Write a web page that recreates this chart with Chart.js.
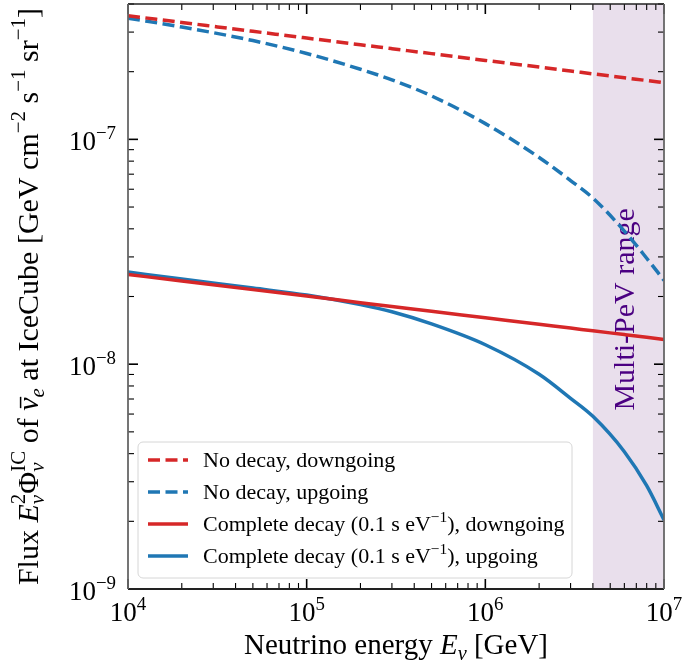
<!DOCTYPE html>
<html>
<head>
<meta charset="utf-8">
<script src="https://cdn.jsdelivr.net/npm/chart.js@4.4.0/dist/chart.umd.min.js"></script>
<style>
  html, body { margin: 0; padding: 0; background: #fff; }
  #wrap { width: 685px; height: 663px; position: relative; }
</style>
</head>
<body>
<div id="wrap"><canvas id="fluxChart"></canvas></div>
<script>
// neutrino energy grid (GeV)
const energy = [1e4, 2e4, 5e4, 1e5, 2e5, 3e5, 5e5, 1e6, 2e6, 3e6, 4e6, 6e6, 8e6, 1e7];

// flux E^2 Phi at IceCube (GeV cm^-2 s^-1 sr^-1)
const noDecayDown = [3.548e-7, 3.312e-7, 3.024e-7, 2.822e-7, 2.635e-7, 2.531e-7, 2.406e-7, 2.245e-7, 2.097e-7, 2.014e-7, 1.956e-7, 1.879e-7, 1.827e-7, 1.787e-7];
const noDecayUp = [3.46e-7, 3.16e-7, 2.75e-7, 2.41e-7, 2.05e-7, 1.84e-7, 1.56e-7, 1.175e-7, 8.31e-8, 6.56e-8, 5.48e-8, 3.91e-8, 2.96e-8, 2.36e-8];
const decayDown = [2.506e-8, 2.344e-8, 2.146e-8, 2.008e-8, 1.878e-8, 1.806e-8, 1.719e-8, 1.608e-8, 1.504e-8, 1.447e-8, 1.407e-8, 1.354e-8, 1.317e-8, 1.288e-8];
const decayUp = [2.57e-8, 2.39e-8, 2.18e-8, 2.03e-8, 1.84e-8, 1.71e-8, 1.51e-8, 1.22e-8, 9.02e-9, 7.05e-9, 5.86e-9, 4.08e-9, 2.88e-9, 2.03e-9];

const seriesLabels = ['No decay, downgoing', 'No decay, upgoing',
  'Complete decay (0.1 s eV⁻¹), downgoing', 'Complete decay (0.1 s eV⁻¹), upgoing'];

// multi-PeV band
const bandRange = [4e6, 1e7];
const bandLabel = 'Multi-PeV range';

// axis ticks
const xTickValues = [1e4, 1e5, 1e6, 1e7];
const xTickLabels = ['10⁴', '10⁵', '10⁶', '10⁷'];
const yTickValues = [1e-9, 1e-8, 1e-7];
const yTickLabels = ['10⁻⁹', '10⁻⁸', '10⁻⁷'];
const xRange = [1e4, 1e7];
const yRange = [1e-9, 4e-7];

const RED = '#d62728', BLUE = '#1f77b4';
const FAMILY = '"Liberation Serif", "Times New Roman", serif';

function pts(ys) { return energy.map((e, i) => ({ x: e, y: ys[i] })); }

// --- small rich-text helper for super/subscripts ---
const SUP = { '⁰': '0', '¹': '1', '²': '2', '³': '3', '⁴': '4', '⁵': '5', '⁶': '6', '⁷': '7', '⁸': '8', '⁹': '9', '⁻': '−' };
function parseSup(str) {
  const parts = [];
  let cur = '', curSup = false;
  for (const ch of str) {
    const s = ch in SUP;
    if (s !== curSup && cur) { parts.push({ t: cur, sup: curSup }); cur = ''; }
    cur += s ? SUP[ch] : ch;
    curSup = s;
  }
  if (cur) parts.push({ t: cur, sup: curSup });
  return parts;
}
function fnt(size, it) { return (it ? 'italic ' : '') + size + 'px ' + FAMILY; }
function partWidth(ctx, p, size) {
  if (p.stack) return Math.max(partWidth(ctx, p.stack[0], size), partWidth(ctx, p.stack[1], size));
  const s = (p.sup || p.sub) ? size * 0.7 : size;
  ctx.font = fnt(s, p.it);
  return ctx.measureText(p.t).width;
}
function drawPart(ctx, p, x, y, size) {
  if (p.stack) {
    drawPart(ctx, p.stack[0], x, y, size);
    drawPart(ctx, p.stack[1], x, y, size);
    return;
  }
  const s = (p.sup || p.sub) ? size * 0.7 : size;
  const dy = p.sup ? -0.42 * size : (p.sub ? 0.2 * size : 0);
  ctx.font = fnt(s, p.it);
  ctx.fillText(p.t, x, y + dy);
  if (p.bar) {
    const w = ctx.measureText(p.t).width;
    ctx.save();
    ctx.lineWidth = size * 0.05;
    ctx.beginPath();
    ctx.moveTo(x + w * 0.2, y + dy - size * 0.58);
    ctx.lineTo(x + w * 1.05, y + dy - size * 0.58);
    ctx.strokeStyle = ctx.fillStyle;
    ctx.stroke();
    ctx.restore();
  }
}
function drawRich(ctx, parts, x, y, size, align) {
  const widths = parts.map(p => partWidth(ctx, p, size));
  const total = widths.reduce((a, b) => a + b, 0);
  let cx = align === 'center' ? x - total / 2 : (align === 'right' ? x - total : x);
  ctx.textAlign = 'left';
  ctx.textBaseline = 'alphabetic';
  parts.forEach((p, i) => { drawPart(ctx, p, cx, y, size); cx += widths[i]; });
}

const xTitle = [
  { t: 'Neutrino energy ' }, { t: 'E', it: true }, { t: 'ν', it: true, sub: true }, { t: ' [GeV]' }
];
const yTitle = [
  { t: 'Flux ' }, { t: 'E', it: true },
  { stack: [{ t: '2', sup: true }, { t: 'ν', it: true, sub: true }] },
  { t: 'Φ' },
  { stack: [{ t: 'IC', sup: true }, { t: 'ν', it: true, sub: true }] },
  { t: ' of ' }, { t: 'ν', it: true, bar: true }, { t: 'e', it: true, sub: true },
  { t: ' at IceCube [GeV cm' }, { t: '−2', sup: true }, { t: ' s' }, { t: '−1', sup: true },
  { t: ' sr' }, { t: '−1', sup: true }, { t: ']' }
];

// band and its label, under the curves
const bandPlugin = {
  id: 'band',
  beforeDatasetsDraw(chart) {
    const { ctx, chartArea: ca, scales: { x } } = chart;
    const x0 = x.getPixelForValue(bandRange[0]);
    const x1 = x.getPixelForValue(bandRange[1]);
    ctx.save();
    ctx.fillStyle = '#e9dfec';
    ctx.fillRect(x0, ca.top, x1 - x0, ca.bottom - ca.top);
    ctx.translate((x0 + x1) / 2 + 6, ca.top + (ca.bottom - ca.top) * 0.522);
    ctx.rotate(-Math.PI / 2);
    ctx.fillStyle = '#4b0082';
    ctx.font = fnt(30, false);
    ctx.textAlign = 'center';
    ctx.textBaseline = 'alphabetic';
    ctx.fillText(bandLabel, 0, 0);
    ctx.restore();
  }
};

// matplotlib-like frame, inward ticks, labels, titles, legend
const framePlugin = {
  id: 'frame',
  afterDatasetsDraw(chart) {
    const { ctx, chartArea: ca, scales: { x, y } } = chart;
    ctx.save();
    ctx.strokeStyle = '#000';
    const tick = (x1, y1, x2, y2, w) => {
      ctx.lineWidth = w;
      ctx.beginPath(); ctx.moveTo(x1, y1); ctx.lineTo(x2, y2); ctx.stroke();
    };
    // x ticks
    for (let d = xRange[0]; d < xRange[1] * 0.99; d *= 10) {
      for (let k = 2; k <= 9; k++) {
        const px = x.getPixelForValue(k * d);
        tick(px, ca.bottom, px, ca.bottom - 6, 1.1);
        tick(px, ca.top, px, ca.top + 6, 1.1);
      }
    }
    xTickValues.forEach(v => {
      const px = x.getPixelForValue(v);
      tick(px, ca.bottom, px, ca.bottom - 10, 1.6);
      tick(px, ca.top, px, ca.top + 10, 1.6);
    });
    // y ticks
    for (let d = yRange[0]; d < yRange[1]; d *= 10) {
      for (let k = 2; k <= 9; k++) {
        if (k * d > yRange[1] * 1.001) break;
        const py = y.getPixelForValue(k * d);
        tick(ca.left, py, ca.left + 6, py, 1.1);
        tick(ca.right, py, ca.right - 6, py, 1.1);
      }
    }
    yTickValues.forEach(v => {
      const py = y.getPixelForValue(v);
      tick(ca.left, py, ca.left + 10, py, 1.6);
      tick(ca.right, py, ca.right - 10, py, 1.6);
    });
    // frame: darker top/bottom, softer sides as in the reference
    ctx.lineWidth = 1.6;
    ctx.strokeStyle = '#222';
    tick(ca.left, ca.top, ca.right, ca.top, 1.6);
    tick(ca.left, ca.bottom, ca.right, ca.bottom, 1.8);
    ctx.strokeStyle = '#666';
    tick(ca.left, ca.top, ca.left, ca.bottom, 1.8);
    tick(ca.right, ca.top, ca.right, ca.bottom, 1.8);

    // tick labels
    ctx.fillStyle = '#000';
    xTickValues.forEach((v, i) => {
      drawRich(ctx, parseSup(xTickLabels[i]), x.getPixelForValue(v), ca.bottom + 32, 27, 'center');
    });
    yTickValues.forEach((v, i) => {
      drawRich(ctx, parseSup(yTickLabels[i]), ca.left - 12, y.getPixelForValue(v) + 11, 27, 'right');
    });

    // axis titles
    drawRich(ctx, xTitle, (ca.left + ca.right) / 2, 654, 29, 'center');
    ctx.save();
    ctx.translate(38, (ca.top + ca.bottom) / 2);
    ctx.rotate(-Math.PI / 2);
    drawRich(ctx, yTitle, 0, 0, 30, 'center');
    ctx.restore();

    // legend
    const lx = ca.left + 10, lw = 434, lh = 136, ly = ca.bottom - 11 - lh;
    const r = 5;
    ctx.beginPath();
    ctx.moveTo(lx + r, ly);
    ctx.arcTo(lx + lw, ly, lx + lw, ly + lh, r);
    ctx.arcTo(lx + lw, ly + lh, lx, ly + lh, r);
    ctx.arcTo(lx, ly + lh, lx, ly, r);
    ctx.arcTo(lx, ly, lx + lw, ly, r);
    ctx.closePath();
    ctx.fillStyle = 'rgba(255,255,255,0.8)';
    ctx.fill();
    ctx.strokeStyle = '#d6d6d6';
    ctx.lineWidth = 1;
    ctx.stroke();
    chart.data.datasets.forEach((ds, i) => {
      const cy = ly + 18 + i * 32;
      ctx.strokeStyle = ds.borderColor;
      ctx.lineWidth = ds.borderWidth;
      ctx.setLineDash(ds.borderDash || []);
      ctx.beginPath();
      ctx.moveTo(lx + 10, cy);
      ctx.lineTo(lx + 50, cy);
      ctx.stroke();
      ctx.setLineDash([]);
      ctx.fillStyle = '#000';
      drawRich(ctx, parseSup(ds.label), lx + 65, cy + 7, 22, 'left');
    });
    ctx.restore();
  }
};

const ctx = document.getElementById('fluxChart').getContext('2d');
const fluxChart = new Chart(ctx, {
  type: 'line',
  data: {
    datasets: [
      { label: seriesLabels[0], data: pts(noDecayDown), borderColor: RED, borderDash: [12, 5.5] },
      { label: seriesLabels[1], data: pts(noDecayUp), borderColor: BLUE, borderDash: [12, 5.5] },
      { label: seriesLabels[2], data: pts(decayDown), borderColor: RED },
      { label: seriesLabels[3], data: pts(decayUp), borderColor: BLUE }
    ].map(d => Object.assign({ borderWidth: 3.5, pointRadius: 0, fill: false, cubicInterpolationMode: 'monotone' }, d))
  },
  options: {
    responsive: true,
    maintainAspectRatio: false,
    animation: false,
    layout: { padding: { left: 128, right: 21, top: 4, bottom: 74 } },
    scales: {
      x: { type: 'logarithmic', min: xRange[0], max: xRange[1], display: false },
      y: { type: 'logarithmic', min: yRange[0], max: yRange[1], display: false }
    },
    plugins: { legend: { display: false }, tooltip: { enabled: false } }
  },
  plugins: [bandPlugin, framePlugin]
});
</script>
</body>
</html>
